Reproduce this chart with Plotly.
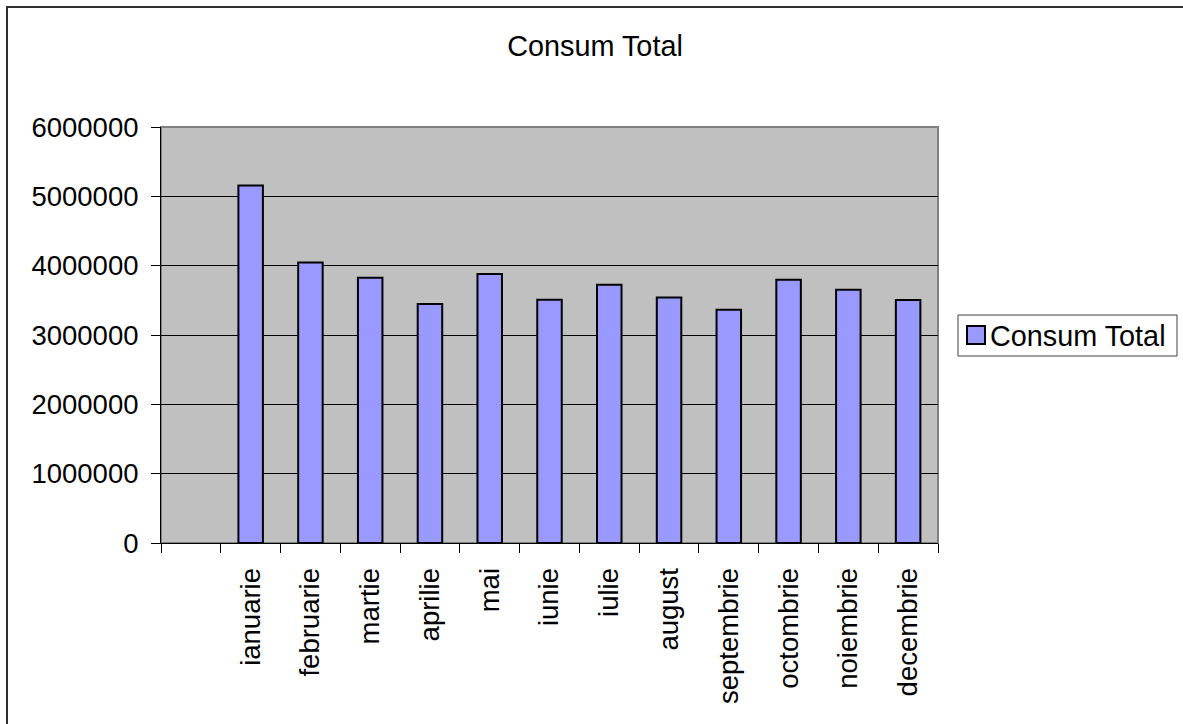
import plotly.graph_objects as go

# Monthly totals
months = ["ianuarie", "februarie", "martie", "aprilie", "mai", "iunie",
          "iulie", "august", "septembrie", "octombrie", "noiembrie", "decembrie"]
consum_total = [5155000, 4046000, 3826000, 3447000, 3879000, 3509000,
                3725000, 3542000, 3365000, 3797000, 3653000, 3504000]
y_ticks = [0, 1000000, 2000000, 3000000, 4000000, 5000000, 6000000]
series_name = "Consum Total"
chart_title = "Consum Total"

W, H = 1183, 724
L, R, T, B = 161, 245, 127, 181
PW, PH = W - L - R, H - T - B

FONT = "Liberation Sans, Arial, sans-serif"
FS_AXIS = 27.5
FS_TEXT = 28.8


def px_x(p):
    return (p - L) / PW


def px_y(p):
    return (H - B - p) / PH


fig = go.Figure()
fig.add_trace(go.Bar(
    x=months, y=consum_total, name=series_name,
    marker=dict(color="#9999FF", line=dict(color="black", width=2)),
    showlegend=False,
))

shapes = [
    # outer chart frame
    dict(type="rect", xref="paper", yref="paper",
         x0=px_x(7), y0=px_y(H + 20), x1=px_x(W + 20), y1=px_y(7),
         line=dict(color="#303030", width=2), layer="below"),
    # plot area border
    dict(type="rect", xref="paper", yref="paper",
         x0=0, y0=0, x1=1, y1=1,
         line=dict(color="#808080", width=2), layer="below"),
    # legend box
    dict(type="rect", xref="paper", yref="paper",
         x0=px_x(958), y0=px_y(356), x1=px_x(1177), y1=px_y(315),
         line=dict(color="#404040", width=1), fillcolor="white"),
    # legend swatch
    dict(type="rect", xref="paper", yref="paper",
         x0=px_x(967), y0=px_y(344), x1=px_x(985), y1=px_y(326),
         line=dict(color="black", width=2), fillcolor="#9999FF"),
]

annotations = [
    dict(text=series_name, xref="paper", yref="paper",
         x=px_x(988), y=px_y(336), xanchor="left", yanchor="middle",
         showarrow=False, font=dict(family=FONT, size=FS_TEXT, color="black")),
]

fig.update_layout(
    width=W, height=H,
    margin=dict(l=L, r=R, t=T, b=B, autoexpand=False),
    paper_bgcolor="white", plot_bgcolor="#C0C0C0",
    font=dict(family=FONT, size=FS_AXIS, color="black"),
    title=dict(text=chart_title, x=0.503, xref="container", xanchor="center",
               y=1 - 46 / H, yref="container", yanchor="middle",
               font=dict(family=FONT, size=FS_TEXT, color="black")),
    bargap=0.59,
    shapes=shapes, annotations=annotations,
    showlegend=False,
)

fig.update_xaxes(
    type="category", categoryorder="array", categoryarray=[" "] + months,
    range=[-0.5, len(months) + 0.5],
    tickson="boundaries", ticks="outside", ticklen=9, tickcolor="black", tickwidth=1,
    tickangle=-90, ticklabelstandoff=13,
    showline=True, linecolor="black", linewidth=1,
    showgrid=False, zeroline=False,
    tickfont=dict(family=FONT, size=FS_AXIS, color="black"),
)
fig.update_yaxes(
    range=[0, 6000000], tickvals=y_ticks, ticktext=[str(v) for v in y_ticks],
    ticks="outside", ticklen=9, tickcolor="black", tickwidth=1,
    ticklabelstandoff=7,
    showline=True, linecolor="black", linewidth=1,
    showgrid=True, gridcolor="black", gridwidth=1, zeroline=False,
    tickfont=dict(family=FONT, size=FS_AXIS, color="black"),
)

fig.write_html("out.html")
